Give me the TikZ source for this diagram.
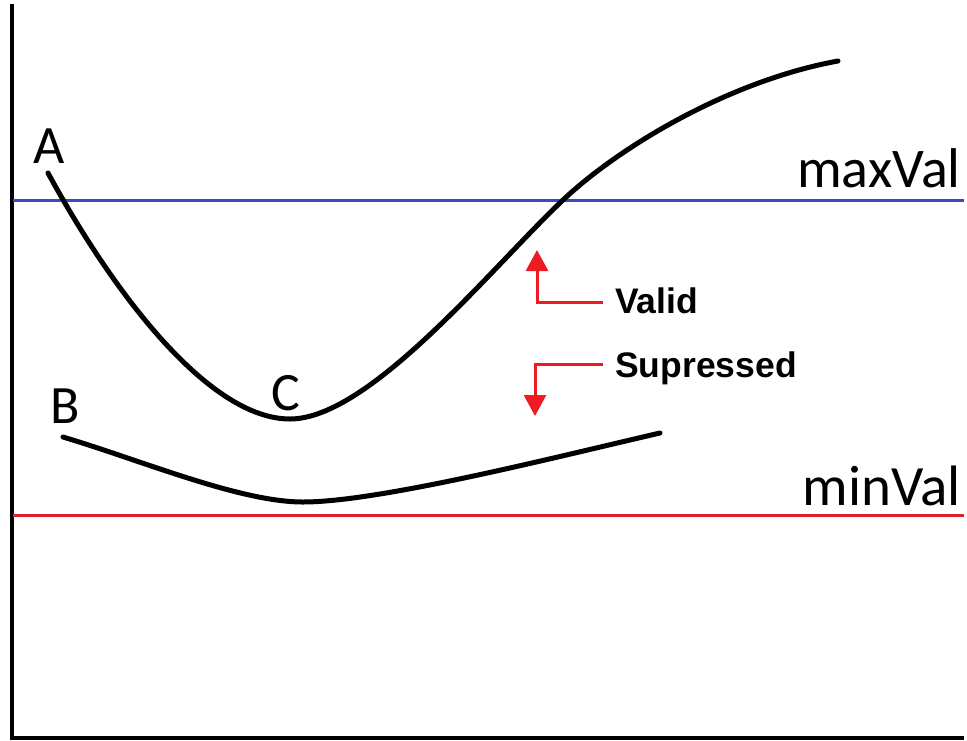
\documentclass[tikz,border=0pt]{standalone}
\usepackage{fontspec}
\setmainfont{Carlito}
\newfontfamily\arialf{Liberation Sans}
\usetikzlibrary{arrows.meta}
\definecolor{myblue}{RGB}{63,72,196}
\definecolor{arrowred}{RGB}{237,28,36}
\definecolor{linered}{RGB}{220,35,45}
\tikzset{
  axisline/.style={line width=4pt, line join=miter},
  limitline/.style={line width=3pt},
  curveline/.style={line width=5pt, line cap=round},
  biglabel/.style={font=\fontsize{54}{60}\selectfont, inner sep=0pt},
  smalllabel/.style={font=\arialf\bfseries\fontsize{35.5}{40}\selectfont, inner sep=0pt, anchor=base west},
  redarrow/.style={arrowred, line width=3pt, -{Triangle[length=21pt,width=22pt]}}
}
\begin{document}
\begin{tikzpicture}[x=1pt,y=-1pt]
\useasboundingbox[fill=white] (0,0) rectangle (967,740);
% axes
\draw[axisline] (11.7,4) -- (11.7,737.5) -- (964,737.5);
% limit lines
\draw[limitline, myblue] (13,200) -- (964,200);
\draw[limitline, linered] (13,515) -- (964,515);
% curve A
\coordinate (a0) at (48,173);
\coordinate (a1) at (290,419);
\coordinate (a2) at (563,200);
\coordinate (a3) at (838,61);
\draw[curveline] (a0) .. controls (115,296) and (210,419) .. (a1)
  .. controls (370,419) and (493,266) .. (a2)
  .. controls (618,148) and (728,81) .. (a3);
% curve B
\coordinate (b0) at (63,437);
\coordinate (b1) at (303,502);
\coordinate (b2) at (660,433);
\draw[curveline] (b0) .. controls (143,461) and (240,502) .. (b1)
  .. controls (380,502) and (560,456) .. (b2);
% labels
\node[biglabel, anchor=base] (A) at (49,163) {A};
\node[biglabel, anchor=base] (B) at (65,423) {B};
\node[biglabel, anchor=base] (C) at (286,410) {C};
\node[biglabel, font=\fontsize{56}{60}\selectfont, anchor=base east] (maxv) at (961,187) {maxVal};
\node[biglabel, font=\fontsize{57}{60}\selectfont, anchor=base east] (minv) at (961,505) {minVal};
\node[smalllabel] (valid) at (615,313) {Valid};
\node[smalllabel] (supp) at (615,377) {Supressed};
% arrows
\coordinate (vcorner) at (537,302);
\coordinate (vend) at (603,302);
\coordinate (vtip) at (537,250);
\coordinate (scorner) at (535,364);
\coordinate (sstart) at (603,364);
\coordinate (stip) at (535,416);
\draw[redarrow] (vend) -- (vcorner) -- (vtip);
\draw[redarrow] (sstart) -- (scorner) -- (stip);
\end{tikzpicture}
\end{document}
